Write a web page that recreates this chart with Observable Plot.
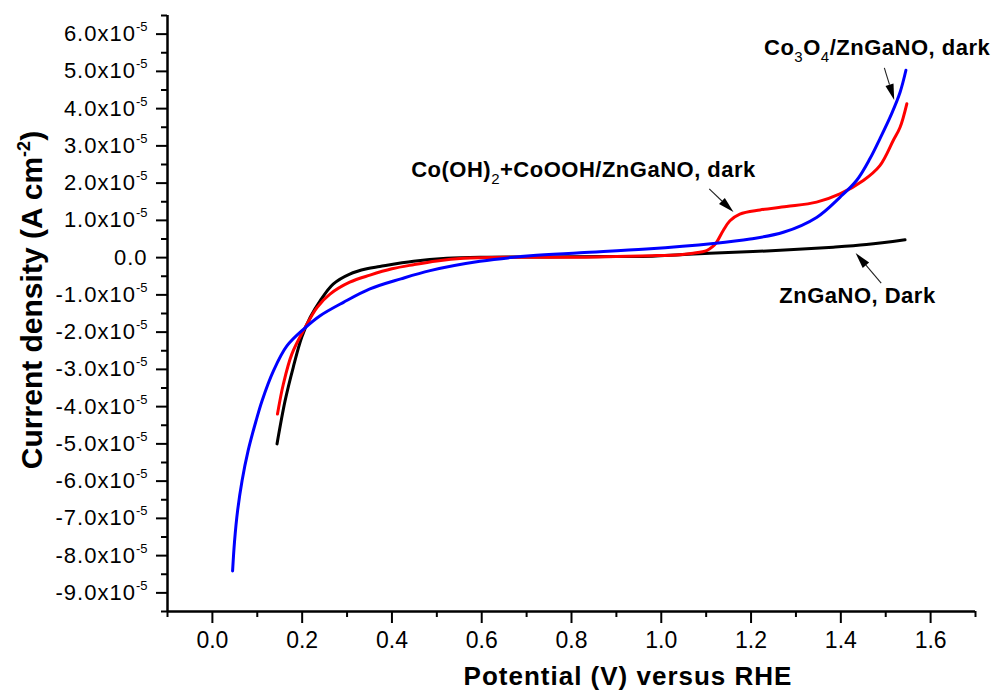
<!DOCTYPE html>
<html><head><meta charset="utf-8">
<script src="https://cdn.jsdelivr.net/npm/d3@7"></script>
<script src="https://cdn.jsdelivr.net/npm/@observablehq/plot@0.6"></script>
<style>
body{margin:0;background:#fff}
svg{font-family:"Liberation Sans",Arial,sans-serif}
g[aria-label="y-axis tick label"] text{letter-spacing:1px}
</style>
</head><body><div id="chart"></div>
<script>
// Potential (V vs RHE) and current density (units of 1e-5 A cm^-2)
const zngV = [0.144,0.162,0.180,0.199,0.218,0.240,0.269,0.306,0.344,0.373,0.448,0.522,0.60,0.75,0.90,0.98,1.042,1.108,1.235,1.383,1.457,1.543];
const zngJ = [-5.0,-3.84,-2.95,-2.14,-1.60,-1.16,-0.71,-0.44,-0.30,-0.24,-0.10,-0.02,0.01,0.02,0.03,0.04,0.08,0.12,0.18,0.28,0.35,0.48];

const cohV = [0.145,0.158,0.177,0.206,0.233,0.262,0.306,0.351,0.40,0.448,0.50,0.559,0.670,0.819,0.90,0.98,1.042,1.071,1.101,1.115,1.123,1.138,1.153,1.175,1.220,1.279,1.346,1.398,1.450,1.487,1.517,1.532,1.547];
const cohJ = [-4.20,-3.40,-2.59,-1.89,-1.34,-0.98,-0.66,-0.47,-0.30,-0.19,-0.09,-0.02,0.01,0.01,0.03,0.05,0.08,0.12,0.19,0.30,0.41,0.73,0.99,1.17,1.28,1.37,1.49,1.71,2.07,2.47,3.15,3.50,4.13];

const co3V = [0.045,0.0494,0.0561,0.0661,0.0795,0.0973,0.1107,0.136,0.166,0.206,0.240,0.292,0.351,0.42,0.485,0.596,0.708,0.819,0.967,1.116,1.198,1.272,1.346,1.398,1.435,1.465,1.487,1.513,1.532,1.545];
const co3J = [-8.41,-7.61,-6.80,-5.99,-5.19,-4.38,-3.84,-3.04,-2.37,-1.89,-1.56,-1.20,-0.84,-0.57,-0.35,-0.10,0.05,0.13,0.23,0.38,0.50,0.68,1.08,1.62,2.07,2.66,3.19,3.86,4.44,5.03];

const yTicks = [-9,-8,-7,-6,-5,-4,-3,-2,-1,0,1,2,3,4,5,6];
const yMinor = [-9.5,-8.5,-7.5,-6.5,-5.5,-4.5,-3.5,-2.5,-1.5,-0.5,0.5,1.5,2.5,3.5,4.5,5.5,6.5];
const xTicks = [0,0.2,0.4,0.6,0.8,1.0,1.2,1.4,1.6];
const xMinor = [-0.1,0.1,0.3,0.5,0.7,0.9,1.1,1.3,1.5,1.7];
const yExponent = "-5";

// annotations (data units)
const noteV = [1.230, 0.444, 1.264];
const noteJ = [5.43, 2.15, -1.24];
const noteParts = [
  [["Co",0],["3",1],["O",0],["4",1],["/ZnGaNO, dark",0]],
  [["Co(OH)",0],["2",1],["+CoOOH/ZnGaNO, dark",0]],
  [["ZnGaNO, Dark",0]]
];
const arrowFromV = [1.498, 1.108, 1.491];
const arrowFromJ = [5.08, 1.83, -0.70];
const arrowToV = [1.520, 1.162, 1.434];
const arrowToJ = [4.22, 1.21, 0.11];

const toRows = (V, J) => V.map((v, i) => ({v, j: J[i]}));

const plot = Plot.plot({
  width: 993, height: 692,
  marginLeft: 167, marginRight: 18, marginTop: 15, marginBottom: 81,
  x: {domain: [-0.1, 1.7]},
  y: {domain: [-9.5, 6.5]},
  style: {background: "white", color: "black", fontFamily: "Liberation Sans, Arial, sans-serif"},
  marks: [
    Plot.axisY(yMinor, {tickSize: 6, tickFormat: () => "", strokeWidth: 2, label: null}),
    Plot.axisY(yTicks, {tickSize: 11, tickPadding: 9, fontSize: 22, strokeWidth: 2, label: null,
      tickFormat: d => d === 0 ? "0.0" : d.toFixed(1) + "x10"}),
    Plot.axisX(xMinor, {tickSize: 6, tickFormat: () => "", strokeWidth: 2, label: null}),
    Plot.axisX(xTicks, {tickSize: 12, tickPadding: 8, fontSize: 23, strokeWidth: 2, label: null,
      tickFormat: d => d.toFixed(1)}),
    Plot.ruleX([-0.1], {strokeWidth: 2.5}),
    Plot.ruleY([-9.5], {strokeWidth: 2.5}),
    Plot.line(toRows(zngV, zngJ), {x: "v", y: "j", stroke: "#000000", strokeWidth: 3, curve: "catmull-rom"}),
    Plot.line(toRows(cohV, cohJ), {x: "v", y: "j", stroke: "#ff0000", strokeWidth: 3, curve: "catmull-rom"}),
    Plot.line(toRows(co3V, co3J), {x: "v", y: "j", stroke: "#0000ff", strokeWidth: 3, curve: "catmull-rom"})
  ]
});
document.getElementById("chart").appendChild(plot);

const svg = d3.select(plot);
// superscripts on y tick labels
svg.selectAll('g[aria-label="y-axis tick label"] text').each(function() {
  const t = d3.select(this);
  const s = t.text();
  if (s && s !== "0.0") {
    t.append("tspan").attr("dy", -10).attr("font-size", 13).style("letter-spacing", "0px").text(yExponent);
  }
});

const sx = plot.scale("x"), sy = plot.scale("y");
const g = svg.append("g").attr("text-anchor", "start");

// arrows
arrowFromV.forEach((_, i) => {
  const x1 = sx.apply(arrowFromV[i]), y1 = sy.apply(arrowFromJ[i]);
  const x2 = sx.apply(arrowToV[i]), y2 = sy.apply(arrowToJ[i]);
  const dx = x2 - x1, dy = y2 - y1, L = Math.hypot(dx, dy);
  const ux = dx / L, uy = dy / L, hl = 16, hw = 4.2;
  const bx = x2 - ux * hl, by = y2 - uy * hl;
  g.append("line").attr("x1", x1).attr("y1", y1).attr("x2", bx).attr("y2", by)
    .attr("stroke", "#222").attr("stroke-width", 1.1);
  g.append("path")
    .attr("d", `M${x2},${y2}L${bx - uy * hw},${by + ux * hw}L${bx + uy * hw},${by - ux * hw}Z`)
    .attr("fill", "#000");
});

// annotation texts
noteParts.forEach((parts, i) => {
  const t = g.append("text")
    .attr("x", sx.apply(noteV[i])).attr("y", sy.apply(noteJ[i]))
    .attr("text-anchor", "start")
    .attr("font-size", 22).attr("font-weight", "bold").style("letter-spacing", "0.5px").attr("fill", "#000");
  let shifted = false;
  parts.forEach(([txt, sub]) => {
    const ts = t.append("tspan").text(txt);
    if (sub) { ts.attr("dy", shifted ? 0 : 7).attr("font-size", 15).attr("font-weight", "normal"); shifted = true; }
    else if (shifted) { ts.attr("dy", -7); shifted = false; }
  });
});

// axis titles
const yt = svg.append("text")
  .attr("transform", "translate(42,300) rotate(-90)")
  .attr("text-anchor", "middle").attr("font-size", 30).attr("font-weight", "bold").attr("fill", "#000");
yt.append("tspan").text("Current density (A cm");
yt.append("tspan").attr("dy", -12).attr("font-size", 18).text("-2");
yt.append("tspan").attr("dy", 12).text(")");

svg.append("text")
  .attr("x", 628).attr("y", 685)
  .attr("text-anchor", "middle").attr("font-size", 26).attr("font-weight", "bold")
  .style("letter-spacing", "1px").attr("fill", "#000")
  .text("Potential (V) versus RHE");
</script>
</body></html>
